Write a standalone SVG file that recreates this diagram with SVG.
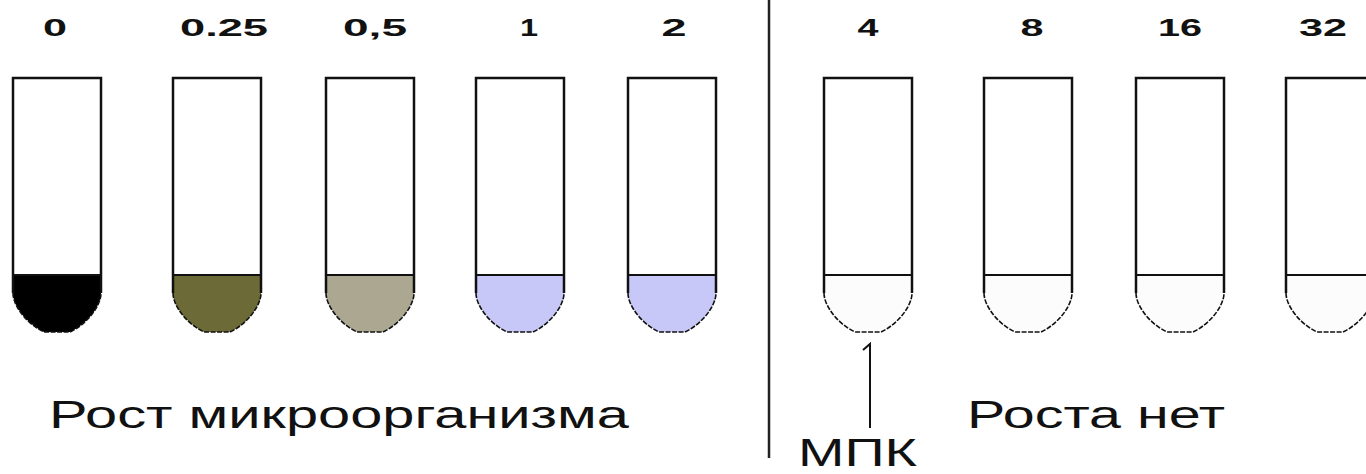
<svg xmlns="http://www.w3.org/2000/svg" xmlns:xlink="http://www.w3.org/1999/xlink" width="1366" height="474" viewBox="0 0 1366 474">
<style>
.num{font-family:"Liberation Sans",Arial,sans-serif;font-weight:bold;font-size:24px;fill:#111;text-anchor:middle}
.cap{font-family:"Liberation Sans",Arial,sans-serif;font-size:38px;fill:#111}
.wall{fill:none;stroke:#111;stroke-width:2.5}
.curve{fill:none;stroke:#111;stroke-width:1.6;stroke-dasharray:5 1.5}
.meniscus{fill:none;stroke:#111;stroke-width:2}
</style>
<defs>
<path id="liquid" d="M0,197 H88 V215 C88,228 74,246 57,254 H31 C14,246 0,228 0,215 Z"/>
<g id="tube">
<rect x="0" y="0" width="88" height="197" fill="#fff"/>
<path class="wall" d="M0,215 V0 H88 V215"/>
<path class="meniscus" d="M0,197 H88"/>
<path class="curve" d="M0,215 C0,228 14,246 31,254 H57 C74,246 88,228 88,215"/>
</g>
</defs>
<rect width="1366" height="474" fill="#fff"/>

<g id="tube-0" transform="translate(13,78)"><use xlink:href="#liquid" fill="#000"/><use xlink:href="#tube"/><text class="num" x="42" y="-42" textLength="24" lengthAdjust="spacingAndGlyphs">0</text></g>
<g id="tube-025" transform="translate(173,78)"><use xlink:href="#liquid" fill="#6c6a36"/><use xlink:href="#tube"/><text class="num" x="51" y="-42" textLength="88" lengthAdjust="spacingAndGlyphs">0.25</text></g>
<g id="tube-05" transform="translate(326,78)"><use xlink:href="#liquid" fill="#aba791"/><use xlink:href="#tube"/><text class="num" x="49" y="-42" textLength="64" lengthAdjust="spacingAndGlyphs">0,5</text></g>
<g id="tube-1" transform="translate(476,78)"><use xlink:href="#liquid" fill="#c8c8f8"/><use xlink:href="#tube"/><text class="num" x="53" y="-42" textLength="18" lengthAdjust="spacingAndGlyphs">1</text></g>
<g id="tube-2" transform="translate(628,78)"><use xlink:href="#liquid" fill="#c8c8f8"/><use xlink:href="#tube"/><text class="num" x="46" y="-42" textLength="25" lengthAdjust="spacingAndGlyphs">2</text></g>
<g id="tube-4" transform="translate(824,78)"><use xlink:href="#liquid" fill="#fcfcfc"/><use xlink:href="#tube"/><text class="num" x="44" y="-42" textLength="21" lengthAdjust="spacingAndGlyphs">4</text></g>
<g id="tube-8" transform="translate(984,78)"><use xlink:href="#liquid" fill="#fcfcfc"/><use xlink:href="#tube"/><text class="num" x="48" y="-42" textLength="23" lengthAdjust="spacingAndGlyphs">8</text></g>
<g id="tube-16" transform="translate(1136,78)"><use xlink:href="#liquid" fill="#fcfcfc"/><use xlink:href="#tube"/><text class="num" x="44" y="-42" textLength="44" lengthAdjust="spacingAndGlyphs">16</text></g>
<g id="tube-32" transform="translate(1286,78)"><use xlink:href="#liquid" fill="#fcfcfc"/><use xlink:href="#tube"/><text class="num" x="37" y="-42" textLength="48" lengthAdjust="spacingAndGlyphs">32</text></g>

<g id="connectors">
<line x1="769" y1="0" x2="769" y2="458" stroke="#222" stroke-width="2.5"/>
<path d="M863,350 L870,344 V428" fill="none" stroke="#111" stroke-width="2"/>
</g>

<g id="label-growth"><text class="cap" x="49" y="428" textLength="580" lengthAdjust="spacingAndGlyphs">Рост микроорганизма</text></g>
<g id="label-nogrowth"><text class="cap" x="967" y="428" textLength="258" lengthAdjust="spacingAndGlyphs">Роста нет</text></g>
<g id="label-mic"><text class="cap" x="798" y="466" font-size="32" textLength="119" lengthAdjust="spacingAndGlyphs">МПК</text></g>
</svg>
